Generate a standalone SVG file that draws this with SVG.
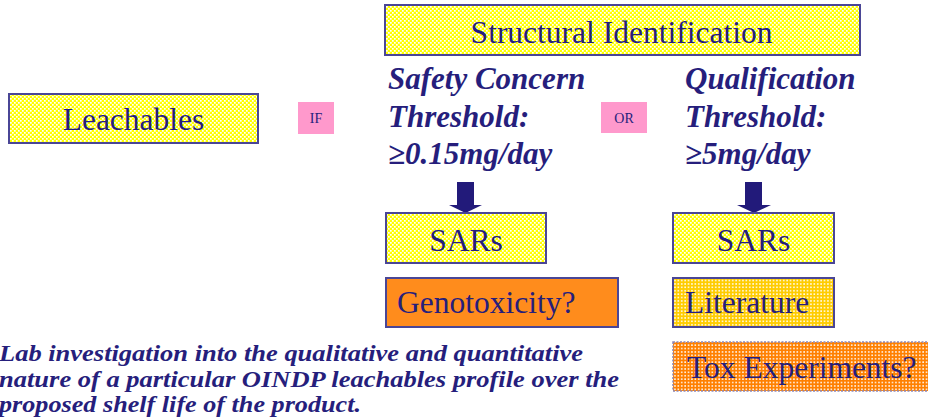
<svg xmlns="http://www.w3.org/2000/svg" width="928" height="417" viewBox="0 0 928 417">
  <defs>
    <!-- fine yellow/white checkerboard fill -->
    <pattern id="checkYellow" width="4" height="4" patternUnits="userSpaceOnUse">
      <rect width="4" height="4" fill="#FFFF00"/>
      <rect x="0" y="0" width="1.7" height="1.7" fill="#FFFFFF"/>
      <rect x="2" y="2" width="1.7" height="1.7" fill="#FFFFFF"/>
    </pattern>
    <!-- gold fill with white dot grid -->
    <pattern id="gridGold" width="3.4" height="3.4" patternUnits="userSpaceOnUse">
      <rect width="3.4" height="3.4" fill="#FFCC00"/>
      <rect x="1" y="1" width="1.5" height="1.5" fill="#FFFFFF"/>
    </pattern>
    <!-- orange fill with white dot grid -->
    <pattern id="gridOrange" width="3.4" height="3.4" patternUnits="userSpaceOnUse">
      <rect width="3.4" height="3.4" fill="#FF8000"/>
      <rect x="1" y="1" width="1.5" height="1.5" fill="#FFFFFF"/>
    </pattern>
  </defs>
  <style>
    .box { stroke: #4A4696; stroke-width: 2; }
    text { font-family: 'Liberation Serif', 'Times New Roman', Times, serif; }
    .label { fill: #261E7C; }
    .big { font-size: 31.5px; }
    .tag { font-size: 14px; }
    .heading { font-weight: bold; font-style: italic; font-size: 31px; fill: #261E7C; }
    .note { font-weight: bold; font-style: italic; font-size: 24px; fill: #261E7C; }
    .arrow { fill: #221A7A; }
  </style>

  <rect width="928" height="417" fill="#FFFFFF"/>

  <g id="structural-identification">
    <rect class="box" x="385" y="5" width="475" height="50" fill="url(#checkYellow)"/>
    <text class="label big" x="621.5" y="43" text-anchor="middle">Structural Identification</text>
  </g>

  <g id="leachables">
    <rect class="box" x="9" y="94" width="249" height="49" fill="url(#checkYellow)"/>
    <text class="label big" x="133.5" y="130" text-anchor="middle">Leachables</text>
  </g>

  <g id="if-tag">
    <rect x="298" y="102" width="36" height="32" fill="#FF99CC"/>
    <text class="label tag" x="316" y="123" text-anchor="middle">IF</text>
  </g>

  <g id="safety-concern">
    <text class="heading" x="388" y="89">Safety Concern</text>
    <text class="heading" x="388" y="127">Threshold:</text>
    <text class="heading" x="388" y="164">≥0.15mg/day</text>
  </g>

  <g id="or-tag">
    <rect x="601" y="102" width="46" height="31" fill="#FF99CC"/>
    <text class="label tag" x="624" y="123" text-anchor="middle">OR</text>
  </g>

  <g id="qualification">
    <text class="heading" x="685" y="89">Qualification</text>
    <text class="heading" x="685" y="127">Threshold:</text>
    <text class="heading" x="685" y="164">≥5mg/day</text>
  </g>

  <g id="connectors">
    <path class="arrow" d="M457,182 H474 V205 H482 L465.5,213 L449,205 H457 Z"/>
    <path class="arrow" d="M745,182 H762 V205 H771 L754,213 L737,205 H745 Z"/>
  </g>

  <g id="sars-left">
    <rect class="box" x="386" y="213" width="160" height="50" fill="url(#checkYellow)"/>
    <text class="label big" x="466" y="251" text-anchor="middle">SARs</text>
  </g>

  <g id="sars-right">
    <rect class="box" x="673" y="213" width="161" height="50" fill="url(#checkYellow)"/>
    <text class="label big" x="753.5" y="251" text-anchor="middle">SARs</text>
  </g>

  <g id="genotoxicity">
    <rect class="box" x="386" y="278" width="232" height="49" fill="#FF8C1C"/>
    <text class="label big" x="397" y="313">Genotoxicity?</text>
  </g>

  <g id="literature">
    <rect class="box" x="673" y="278" width="161" height="49" fill="url(#gridGold)"/>
    <text class="label big" x="685" y="313">Literature</text>
  </g>

  <g id="tox-experiments">
    <rect x="673" y="342" width="260" height="49" fill="url(#gridOrange)" stroke="#8C88B8" stroke-width="1.5" stroke-dasharray="2 1.5"/>
    <text class="label big" x="687" y="378">Tox Experiments?</text>
  </g>

  <g id="definition-note">
    <text class="note" x="-1" y="361" textLength="584" lengthAdjust="spacingAndGlyphs">Lab investigation into the qualitative and quantitative</text>
    <text class="note" x="-1" y="387" textLength="620" lengthAdjust="spacingAndGlyphs">nature of a particular OINDP leachables profile over the</text>
    <text class="note" x="-1" y="412" textLength="362" lengthAdjust="spacingAndGlyphs">proposed shelf life of the product.</text>
  </g>
</svg>
